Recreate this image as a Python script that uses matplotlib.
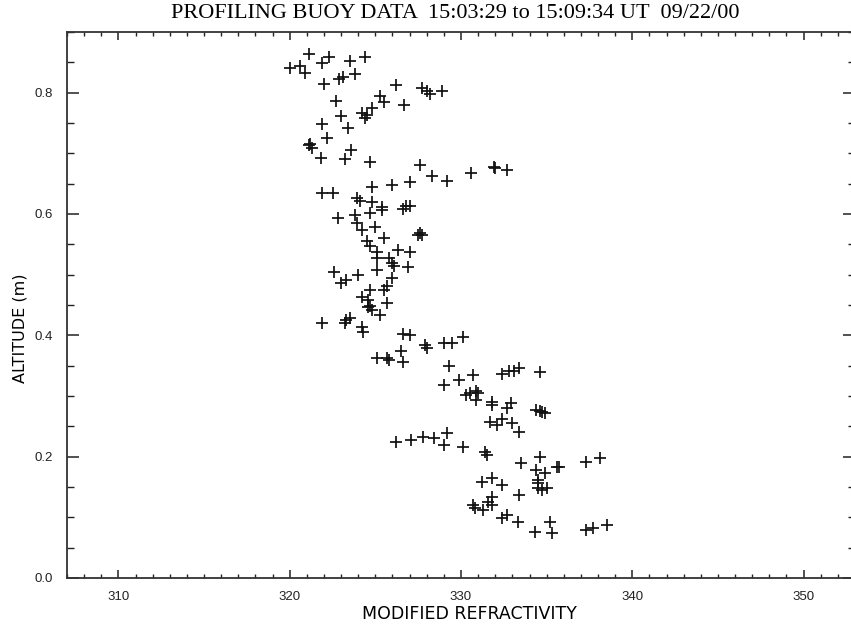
import matplotlib
matplotlib.use("Agg")
import matplotlib.pyplot as plt
from matplotlib.ticker import MultipleLocator, FormatStrFormatter

# profiling buoy samples: modified refractivity vs altitude (m)
refractivity = [
    320.0, 320.6, 320.9, 321.1, 321.9, 322.3, 323.5, 324.4,
    322.0, 322.9, 323.1, 323.8,
    322.7, 323.0, 323.4, 321.9, 322.2,
    321.1, 321.3, 321.2, 321.8, 323.2, 323.6, 324.7,
    324.2, 324.4, 324.8, 324.5,
    325.3, 325.5, 326.2, 326.7,
    327.7, 328.0, 328.2, 328.9,
    327.6, 328.3, 329.2, 330.6, 332.0, 332.7, 331.9,
    321.9, 322.5, 324.8, 326.0, 327.0,
    323.9, 324.1, 324.8, 325.4, 326.8,
    322.8, 323.8, 323.9, 324.2, 324.7, 325.4, 325.0, 326.6, 327.0,
    327.6, 327.5, 327.7,
    324.5, 324.7, 325.1, 325.5, 325.1, 326.3, 327.0,
    325.8, 326.0, 326.1, 326.9, 325.1, 326.0,
    322.6, 323.0, 323.3, 324.0,
    324.2, 324.7, 324.6, 324.8, 325.3, 325.7, 325.5, 325.7, 324.6, 324.7,
    321.9, 323.2, 323.5, 323.3, 324.2,
    324.3, 326.6, 327.0, 327.9, 328.0, 329.0, 329.5, 330.1,
    325.1, 325.7, 325.8, 326.5, 326.6,
    329.3, 332.4, 333.1, 333.4, 334.6, 332.8,
    329.0, 329.9, 330.7, 330.9, 330.3, 330.9, 331.8, 331.8, 330.5, 331.0,
    332.9, 332.7, 334.4, 334.7, 334.9, 334.6,
    331.7, 332.1, 332.4, 333.0, 333.4,
    326.2, 327.1, 327.8, 328.4, 329.2, 329.0, 330.1, 331.4, 331.5,
    333.5, 334.6, 334.4, 334.9, 335.6, 335.7, 337.3, 338.1,
    331.2, 331.8, 332.4, 334.5, 334.5, 334.7, 335.0, 334.5, 333.4,
    330.7, 330.8, 331.3, 331.8, 331.8, 331.6, 332.4, 332.7, 333.3,
    334.3, 335.2, 335.3, 337.3, 337.7, 338.5,
]
altitude = [
    0.841, 0.844, 0.833, 0.864, 0.849, 0.859, 0.853, 0.858,
    0.815, 0.823, 0.825, 0.831,
    0.787, 0.762, 0.742, 0.749, 0.726,
    0.713, 0.709, 0.716, 0.693, 0.691, 0.705, 0.685,
    0.767, 0.759, 0.774, 0.764,
    0.795, 0.784, 0.812, 0.779,
    0.808, 0.803, 0.798, 0.803,
    0.680, 0.663, 0.655, 0.667, 0.675, 0.673, 0.677,
    0.634, 0.635, 0.644, 0.647, 0.652,
    0.627, 0.622, 0.619, 0.611, 0.614,
    0.593, 0.598, 0.585, 0.573, 0.601, 0.606, 0.578, 0.609, 0.614,
    0.568, 0.565, 0.566,
    0.555, 0.547, 0.538, 0.560, 0.528, 0.540, 0.537,
    0.527, 0.519, 0.515, 0.512, 0.507, 0.494,
    0.504, 0.487, 0.491, 0.499,
    0.463, 0.474, 0.446, 0.441, 0.433, 0.453, 0.474, 0.482, 0.458, 0.449,
    0.420, 0.421, 0.428, 0.425, 0.413,
    0.405, 0.403, 0.400, 0.384, 0.379, 0.388, 0.387, 0.397,
    0.362, 0.362, 0.359, 0.375, 0.356,
    0.350, 0.337, 0.342, 0.346, 0.339, 0.341,
    0.318, 0.326, 0.334, 0.309, 0.301, 0.293, 0.285, 0.290, 0.305, 0.305,
    0.288, 0.280, 0.277, 0.273, 0.272, 0.275,
    0.257, 0.252, 0.262, 0.255, 0.240,
    0.224, 0.227, 0.232, 0.230, 0.239, 0.219, 0.216, 0.207, 0.202,
    0.189, 0.199, 0.178, 0.173, 0.183, 0.183, 0.191, 0.198,
    0.158, 0.165, 0.153, 0.156, 0.161, 0.145, 0.148, 0.148, 0.137,
    0.120, 0.115, 0.112, 0.133, 0.120, 0.125, 0.099, 0.104, 0.092,
    0.076, 0.092, 0.074, 0.079, 0.082, 0.087,
]

title = "PROFILING BUOY DATA  15:03:29 to 15:09:34 UT  09/22/00"
xlabel = "MODIFIED REFRACTIVITY"
ylabel = "ALTITUDE (m)"

fig = plt.figure(figsize=(8.51, 6.24), dpi=100)
# right spine sits just past the image edge, as in the original
ax = fig.add_axes([67 / 851, 46 / 624, 788 / 851, 546 / 624])

ax.plot(refractivity, altitude, linestyle="none", marker="+",
        color="#111111", markersize=9, markeredgewidth=1.25)

ax.set_xlim(307, 353)
ax.set_ylim(0, 0.9)
ax.xaxis.set_major_locator(MultipleLocator(10))
ax.xaxis.set_minor_locator(MultipleLocator(1))
ax.yaxis.set_major_locator(MultipleLocator(0.2))
ax.yaxis.set_minor_locator(MultipleLocator(0.05))
ax.yaxis.set_major_formatter(FormatStrFormatter("%.1f"))

ax.tick_params(axis="both", which="both", direction="in",
               top=True, right=True, colors="#222222", labelsize=9.5)
ax.tick_params(axis="x", which="major", length=6, width=1.1, pad=9)
ax.tick_params(axis="x", which="minor", length=3.2, width=1.0)
ax.tick_params(axis="y", which="major", length=8.5, width=1.1, pad=10)
ax.tick_params(axis="y", which="minor", length=5, width=1.0)
for lbl in ax.get_xticklabels() + ax.get_yticklabels():
    lbl.set_family("Liberation Sans")
for sp in ax.spines.values():
    sp.set_linewidth(1.3)
    sp.set_color("#333333")

fig.text(455 / 851, 1 - 14 / 624, title, ha="center", va="center",
         family="Liberation Serif", fontsize=16)
fig.text(469 / 851, 1 - 614 / 624, xlabel, ha="center", va="center",
         family="DejaVu Sans", fontsize=12.5)
fig.text(20 / 851, 1 - 328 / 624, ylabel, ha="center", va="center",
         rotation=90, family="DejaVu Sans", fontsize=11.5)

fig.savefig("out.png", dpi=100)
